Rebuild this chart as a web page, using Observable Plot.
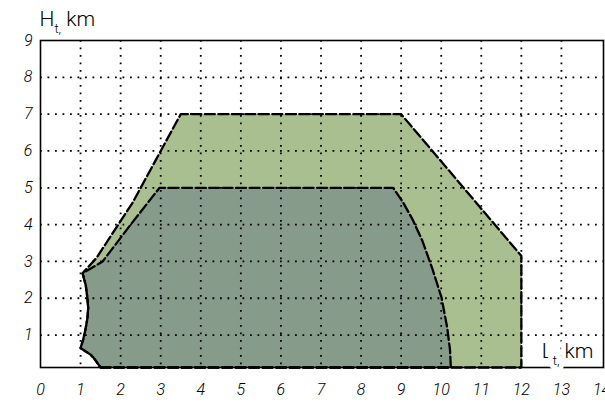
<!DOCTYPE html>
<html>
<head>
<meta charset="utf-8">
<script src="https://cdn.jsdelivr.net/npm/d3@7"></script>
<script src="https://cdn.jsdelivr.net/npm/@observablehq/plot@0.6"></script>
<style>
  html, body { margin: 0; padding: 0; background: #fff; overflow: hidden; }
</style>
</head>
<body>
<div id="chart"></div>
<script>
// Tick values
const xTicks = [0, 1, 2, 3, 4, 5, 6, 7, 8, 9, 10, 11, 12, 13, 14];
const yTicks = [1, 2, 3, 4, 5, 6, 7, 8, 9];
const xGrid = [1, 2, 3, 4, 5, 6, 7, 8, 9, 10, 11, 12, 13];
const yGrid = [1, 2, 3, 4, 5, 6, 7, 8];

// Axis titles
const yTitle = "Ht, km";
const xTitle = "Lt, km";

// Outer (light green) zone boundary
const outerX = [1.5, 12.0, 12.0, 9.0, 3.5, 2.3, 1.4, 1.05, 1.13, 1.17, 1.19, 1.17, 1.13, 1.07, 1.0, 1.12, 1.25, 1.35, 1.42, 1.5];
const outerY = [0.12, 0.12, 3.15, 7.0, 7.0, 4.6, 3.1, 2.68, 2.35, 2.01, 1.74, 1.45, 1.2, 0.9, 0.65, 0.56, 0.47, 0.35, 0.24, 0.12];

// Inner (grey green) zone boundary
const innerX = [1.5, 10.24, 10.22, 10.15, 10.01, 9.78, 9.53, 9.28, 9.05, 8.8, 2.97, 2.25, 1.55, 1.05, 1.13, 1.17, 1.19, 1.17, 1.13, 1.07, 1.0, 1.12, 1.25, 1.35, 1.42, 1.5];
const innerY = [0.12, 0.12, 0.6, 1.2, 2.01, 2.8, 3.56, 4.15, 4.6, 5.0, 5.0, 4.0, 3.0, 2.68, 2.35, 2.01, 1.74, 1.45, 1.2, 0.9, 0.65, 0.56, 0.47, 0.35, 0.24, 0.12];

const outer = outerX.map((x, i) => ({x, y: outerY[i]}));
const inner = innerX.map((x, i) => ({x, y: innerY[i]}));

const outerColor = "#aabf90";
const innerColor = "#879b8b";

const dash = {stroke: "black", strokeWidth: 2.3, strokeDasharray: "10 3.5", strokeLinejoin: "miter"};
const dots = {stroke: "black", strokeWidth: 1.8, strokeDasharray: "1.8 5.7"};

const plot = Plot.plot({
  width: 605,
  height: 405,
  marginLeft: 40,
  marginRight: 2,
  marginTop: 40,
  marginBottom: 38,
  style: {fontFamily: "Roboto, 'Liberation Sans', sans-serif", fontWeight: 300, background: "white"},
  x: {domain: [0, 14.05]},
  y: {domain: [0.12, 9]},
  marks: [
    Plot.line(outer, {x: "x", y: "y", fill: outerColor, stroke: "none"}),
    Plot.line(inner, {x: "x", y: "y", fill: innerColor, stroke: "none"}),
    Plot.ruleX(xGrid, dots),
    Plot.ruleY(yGrid, dots),
    Plot.line(outer, {x: "x", y: "y", ...dash}),
    Plot.line(inner, {x: "x", y: "y", ...dash}),
    Plot.frame({stroke: "black", strokeWidth: 1.6}),
    Plot.axisX(xTicks, {tickSize: 0, tickPadding: 16, fontSize: 16, fontStyle: "italic", label: null}),
    Plot.axisY(yTicks, {tickSize: 0, tickPadding: 8, fontSize: 16, fontStyle: "italic", label: null}),
    Plot.text([yTitle], {text: d => d, frameAnchor: "top-left", textAnchor: "start", lineAnchor: "bottom", dx: -1, dy: -15, fontSize: 21, fill: "black"}),
    Plot.text([xTitle], {text: d => d, frameAnchor: "bottom-right", textAnchor: "end", lineAnchor: "bottom", dx: -10, dy: -10, fontSize: 21, fill: "black", stroke: "white", strokeWidth: 10, paintOrder: "stroke", strokeLinejoin: "round"})
  ]
});

document.getElementById("chart").appendChild(plot);

// Subscripts for the axis titles
function subscript(el, main, sub, rest) {
  const t = d3.select(el);
  t.text(null);
  t.append("tspan").text(main);
  t.append("tspan").attr("dy", 7).attr("font-size", 13).text(sub);
  t.append("tspan").attr("dy", -7).text(rest);
}
d3.select(plot).selectAll("text").each(function() {
  const s = this.textContent;
  if (s === yTitle) subscript(this, "H", "t,", " km");
  else if (s === xTitle) subscript(this, "L", "t,", " km");
});
</script>
</body>
</html>
